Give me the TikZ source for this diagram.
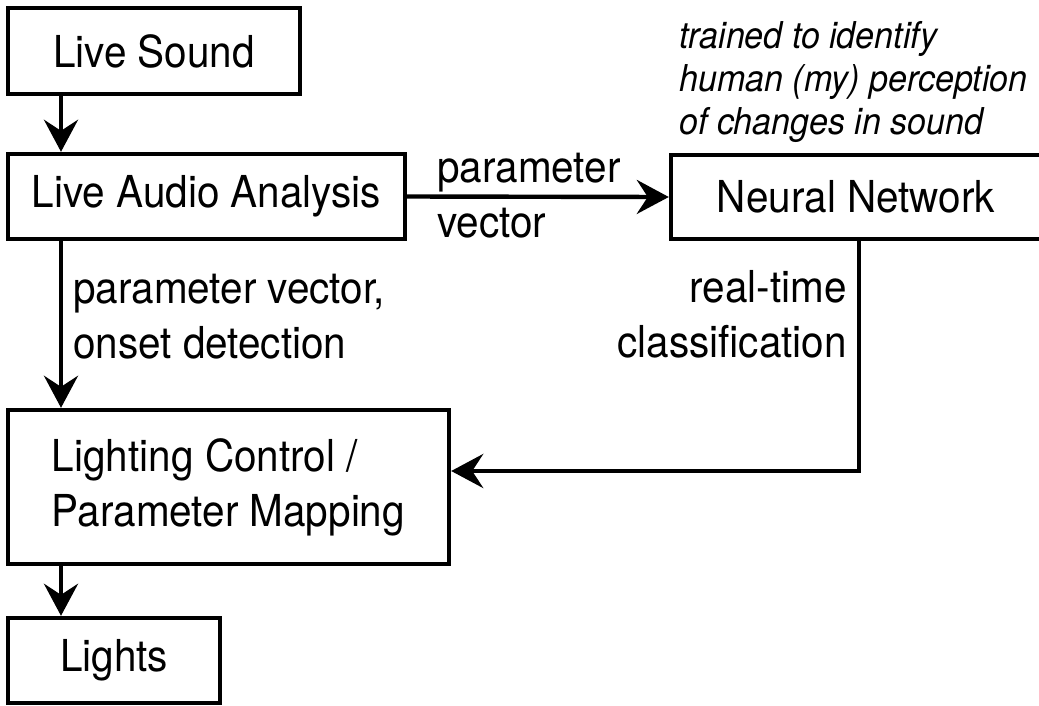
\documentclass[tikz,border=0pt]{standalone}
\usepackage{fontspec}
\setmainfont{TeX Gyre Heros}[FakeStretch=0.92]
\usetikzlibrary{arrows.meta}
\begin{document}
\begin{tikzpicture}[x=1pt,y=-1pt,
  box/.style={draw, line width=4.4pt, inner sep=0pt, font=\fontsize{44}{55}\selectfont},
  conn/.style={line width=4.4pt, -{Stealth[length=32pt,width=34pt,inset=11pt]}},
  lbl/.style={font=\fontsize{44}{55}\selectfont, inner sep=0pt},
  note/.style={font=\fontsize{37}{43}\selectfont\itshape, inner sep=0pt, align=left}]
\useasboundingbox (0,0) rectangle (1039,705);
\node[box, minimum width=292pt, minimum height=86pt] (ls) at (154,51) {Live Sound};
\node[box, minimum width=397pt, minimum height=85pt] (laa) at (206.5,196.5) {Live Audio Analysis};
\node[box, minimum width=370pt, minimum height=84pt] (nn) at (856,197) {Neural Network};
\node[box, minimum width=441pt, minimum height=154pt, align=left] (lc) at (228.5,487) {Lighting Control /\\Parameter Mapping};
\node[box, minimum width=212pt, minimum height=85pt] (li) at (114,660.5) {Lights};
\coordinate (xa) at (61,0);
\coordinate (xb) at (859,0);
\draw[conn] (xa |- ls.south) -- (xa |- laa.north);
\draw[conn] (laa.east) -- (nn.west);
\draw[conn] (xa |- laa.south) -- (xa |- lc.north);
\draw[conn] (xb |- nn.south) |- ([yshift=16pt]lc.east);
\draw[conn] (xa |- lc.south) -- (xa |- li.north);
\node[lbl, align=left, anchor=base west] (pv) at (437,237) {parameter\\vector};
\node[lbl, align=left, anchor=base west] (pvod) at (73,358) {parameter vector,\\onset detection};
\node[lbl, align=right, anchor=base east] (rtc) at (847,357) {real-time\\classification};
\node[note, anchor=base west] (tr) at (679,134) {trained to identify\\human (my) perception\\of changes in sound};
\end{tikzpicture}
\end{document}
